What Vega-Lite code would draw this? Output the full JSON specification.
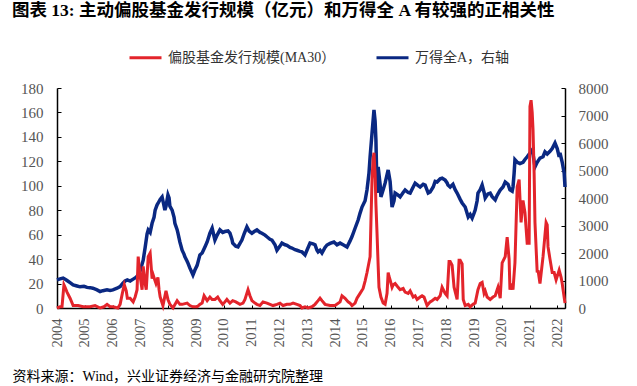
{
"$schema": "https://vega.github.io/schema/vega-lite/v6.json",
"autosize": "none",
"width": 508, "height": 220,
"padding": {"left": 57, "top": 88, "right": 72, "bottom": 78},
"background": "white",
"title": {"text": "图表 13: 主动偏股基金发行规模（亿元）和万得全 A 有较强的正相关性", "anchor": "start", "frame": "group", "orient": "top", "dx": -45, "offset": 3, "baseline": "bottom", "font": "'Liberation Serif', 'Noto Sans CJK SC'", "fontSize": 17.5, "fontWeight": "bold", "color": "#000000"},
"config": {"view": {"stroke": null},
  "axisX": {"values": [2004,2005,2006,2007,2008,2009,2010,2011,2012,2013,2014,2015,2016,2017,2018,2019,2020,2021,2022], "format": "d", "labelAngle": 270, "labelFont": "Liberation Serif", "labelFontSize": 14.5, "labelColor": "#555555", "labelPadding": 13, "tickSize": -3, "tickColor": "#000000", "domainColor": "#000000", "domainWidth": 1.5, "grid": false, "labelFlush": false, "labelOverlap": false,
      "titleX": -45, "titleY": 68, "titleAlign": "left", "titleBaseline": "middle", "titleAngle": 0, "titleFont": "'Liberation Serif', 'Noto Sans CJK SC'", "titleFontSize": 14, "titleFontWeight": "normal", "titleColor": "#000000"}},
"datasets": {
"fund": [
{"t":2004.00,"v":0},{"t":2004.11,"v":1},{"t":2004.18,"v":1},{"t":2004.25,"v":19},{"t":2004.29,"v":17},{"t":2004.36,"v":13},{"t":2004.47,"v":8},{"t":2004.58,"v":2},{"t":2004.76,"v":2},{"t":2004.94,"v":1},
{"t":2005.19,"v":1},{"t":2005.37,"v":2},{"t":2005.55,"v":0},{"t":2005.69,"v":1},{"t":2005.80,"v":3},{"t":2005.91,"v":1},{"t":2006.01,"v":1},{"t":2006.19,"v":0},{"t":2006.27,"v":3},{"t":2006.35,"v":12},
{"t":2006.42,"v":19},{"t":2006.49,"v":14},{"t":2006.53,"v":8},{"t":2006.63,"v":8},{"t":2006.74,"v":5},{"t":2006.81,"v":9},{"t":2006.88,"v":15},{"t":2006.92,"v":42},{"t":2006.95,"v":35},{"t":2006.99,"v":26},
{"t":2007.06,"v":15},{"t":2007.10,"v":34},{"t":2007.17,"v":20},{"t":2007.21,"v":15},{"t":2007.28,"v":42},{"t":2007.35,"v":45},{"t":2007.42,"v":24},{"t":2007.46,"v":27},{"t":2007.53,"v":22},{"t":2007.56,"v":20},
{"t":2007.63,"v":25},{"t":2007.67,"v":15},{"t":2007.71,"v":9},{"t":2007.81,"v":2},{"t":2007.92,"v":14},{"t":2007.99,"v":7},{"t":2008.06,"v":3},{"t":2008.17,"v":0},{"t":2008.32,"v":6},{"t":2008.42,"v":3},
{"t":2008.50,"v":3},{"t":2008.68,"v":4},{"t":2008.78,"v":2},{"t":2008.89,"v":1},{"t":2009.04,"v":1},{"t":2009.14,"v":3},{"t":2009.22,"v":4},{"t":2009.29,"v":10},{"t":2009.40,"v":6},{"t":2009.50,"v":9},
{"t":2009.58,"v":7},{"t":2009.68,"v":7},{"t":2009.78,"v":9},{"t":2009.86,"v":6},{"t":2009.96,"v":3},{"t":2010.04,"v":5},{"t":2010.11,"v":7},{"t":2010.22,"v":4},{"t":2010.32,"v":6},{"t":2010.43,"v":5},
{"t":2010.58,"v":3},{"t":2010.69,"v":4},{"t":2010.76,"v":7},{"t":2010.87,"v":15},{"t":2010.94,"v":10},{"t":2011.01,"v":6},{"t":2011.12,"v":4},{"t":2011.19,"v":3},{"t":2011.30,"v":2},{"t":2011.41,"v":5},
{"t":2011.55,"v":4},{"t":2011.66,"v":3},{"t":2011.77,"v":2},{"t":2011.91,"v":3},{"t":2012.02,"v":4},{"t":2012.13,"v":2},{"t":2012.27,"v":3},{"t":2012.38,"v":3},{"t":2012.49,"v":4},{"t":2012.63,"v":3},
{"t":2012.74,"v":2},{"t":2012.81,"v":0},{"t":2012.92,"v":1},{"t":2013.03,"v":0},{"t":2013.17,"v":1},{"t":2013.28,"v":3},{"t":2013.39,"v":6},{"t":2013.46,"v":8},{"t":2013.53,"v":6},{"t":2013.64,"v":3},
{"t":2013.82,"v":2},{"t":2014.00,"v":2},{"t":2014.18,"v":5},{"t":2014.25,"v":10},{"t":2014.36,"v":8},{"t":2014.47,"v":5},{"t":2014.54,"v":4},{"t":2014.61,"v":2},{"t":2014.72,"v":4},{"t":2014.79,"v":8},
{"t":2014.90,"v":12},{"t":2015.01,"v":16},{"t":2015.08,"v":22},{"t":2015.15,"v":29},{"t":2015.26,"v":42},{"t":2015.29,"v":70},{"t":2015.33,"v":105},{"t":2015.37,"v":122},{"t":2015.40,"v":127},{"t":2015.44,"v":110},
{"t":2015.47,"v":85},{"t":2015.51,"v":61},{"t":2015.55,"v":35},{"t":2015.58,"v":17},{"t":2015.65,"v":9},{"t":2015.73,"v":4},{"t":2015.80,"v":3},{"t":2015.87,"v":12},{"t":2015.91,"v":29},{"t":2015.94,"v":26},
{"t":2015.98,"v":23},{"t":2016.05,"v":17},{"t":2016.09,"v":19},{"t":2016.16,"v":20},{"t":2016.23,"v":18},{"t":2016.34,"v":15},{"t":2016.45,"v":16},{"t":2016.52,"v":13},{"t":2016.63,"v":12},{"t":2016.70,"v":14},
{"t":2016.81,"v":9},{"t":2016.88,"v":10},{"t":2016.95,"v":7},{"t":2017.06,"v":9},{"t":2017.13,"v":10},{"t":2017.20,"v":9},{"t":2017.31,"v":2},{"t":2017.42,"v":5},{"t":2017.49,"v":6},{"t":2017.60,"v":8},
{"t":2017.67,"v":7},{"t":2017.78,"v":10},{"t":2017.85,"v":17},{"t":2017.96,"v":12},{"t":2018.03,"v":10},{"t":2018.10,"v":38},{"t":2018.14,"v":38},{"t":2018.21,"v":35},{"t":2018.28,"v":17},{"t":2018.39,"v":7},
{"t":2018.46,"v":39},{"t":2018.50,"v":39},{"t":2018.57,"v":36},{"t":2018.61,"v":7},{"t":2018.68,"v":2},{"t":2018.79,"v":3},{"t":2018.86,"v":1},{"t":2018.96,"v":3},{"t":2019.04,"v":4},{"t":2019.14,"v":15},
{"t":2019.22,"v":20},{"t":2019.29,"v":21},{"t":2019.36,"v":12},{"t":2019.40,"v":14},{"t":2019.47,"v":9},{"t":2019.58,"v":7},{"t":2019.68,"v":9},{"t":2019.76,"v":10},{"t":2019.83,"v":15},{"t":2019.86,"v":17},
{"t":2019.94,"v":8},{"t":2020.01,"v":37},{"t":2020.12,"v":42},{"t":2020.19,"v":58},{"t":2020.26,"v":40},{"t":2020.29,"v":15},{"t":2020.33,"v":20},{"t":2020.40,"v":15},{"t":2020.47,"v":37},{"t":2020.55,"v":99},
{"t":2020.62,"v":105},{"t":2020.69,"v":70},{"t":2020.76,"v":88},{"t":2020.83,"v":78},{"t":2020.91,"v":53},{"t":2020.98,"v":53},{"t":2021.01,"v":165},{"t":2021.05,"v":170},{"t":2021.09,"v":160},{"t":2021.12,"v":146},
{"t":2021.16,"v":110},{"t":2021.19,"v":70},{"t":2021.27,"v":29},{"t":2021.30,"v":31},{"t":2021.37,"v":20},{"t":2021.48,"v":42},{"t":2021.59,"v":70},{"t":2021.63,"v":68},{"t":2021.66,"v":50},{"t":2021.73,"v":40},
{"t":2021.81,"v":29},{"t":2021.88,"v":29},{"t":2021.95,"v":23},{"t":2022.06,"v":31},{"t":2022.13,"v":25},{"t":2022.17,"v":20},{"t":2022.20,"v":15},{"t":2022.27,"v":4}
],
"wind": [
{"t":2004.00,"v":1020},{"t":2004.11,"v":1060},{"t":2004.22,"v":1090},{"t":2004.29,"v":1050},{"t":2004.36,"v":1000},{"t":2004.47,"v":920},{"t":2004.58,"v":840},{"t":2004.72,"v":800},{"t":2004.83,"v":770},{"t":2004.97,"v":790},
{"t":2005.08,"v":750},{"t":2005.19,"v":740},{"t":2005.29,"v":720},{"t":2005.44,"v":660},{"t":2005.55,"v":600},{"t":2005.65,"v":630},{"t":2005.80,"v":660},{"t":2005.91,"v":640},{"t":2006.01,"v":660},{"t":2006.16,"v":720},
{"t":2006.27,"v":780},{"t":2006.37,"v":900},{"t":2006.45,"v":980},{"t":2006.53,"v":1020},{"t":2006.63,"v":980},{"t":2006.74,"v":1050},{"t":2006.85,"v":1120},{"t":2006.92,"v":1200},{"t":2006.99,"v":1350},{"t":2007.10,"v":1740},
{"t":2007.17,"v":2200},{"t":2007.24,"v":2700},{"t":2007.28,"v":2840},{"t":2007.35,"v":2750},{"t":2007.42,"v":3080},{"t":2007.49,"v":3300},{"t":2007.53,"v":3560},{"t":2007.60,"v":3750},{"t":2007.63,"v":3800},{"t":2007.71,"v":3950},
{"t":2007.78,"v":4040},{"t":2007.81,"v":3900},{"t":2007.88,"v":3560},{"t":2007.92,"v":3700},{"t":2007.99,"v":4110},{"t":2008.03,"v":4000},{"t":2008.06,"v":3700},{"t":2008.14,"v":3560},{"t":2008.21,"v":3300},{"t":2008.24,"v":3080},
{"t":2008.32,"v":2850},{"t":2008.35,"v":2720},{"t":2008.42,"v":2400},{"t":2008.50,"v":2100},{"t":2008.57,"v":1950},{"t":2008.60,"v":1860},{"t":2008.68,"v":1700},{"t":2008.71,"v":1630},{"t":2008.78,"v":1450},{"t":2008.86,"v":1270},
{"t":2008.89,"v":1200},{"t":2008.96,"v":1380},{"t":2009.04,"v":1550},{"t":2009.14,"v":1930},{"t":2009.22,"v":2000},{"t":2009.32,"v":2220},{"t":2009.40,"v":2400},{"t":2009.50,"v":2720},{"t":2009.58,"v":2900},{"t":2009.65,"v":2600},
{"t":2009.68,"v":2470},{"t":2009.76,"v":2650},{"t":2009.86,"v":2840},{"t":2009.96,"v":2750},{"t":2010.04,"v":2780},{"t":2010.15,"v":2800},{"t":2010.22,"v":2720},{"t":2010.29,"v":2500},{"t":2010.32,"v":2360},{"t":2010.43,"v":2250},
{"t":2010.51,"v":2220},{"t":2010.58,"v":2350},{"t":2010.65,"v":2470},{"t":2010.73,"v":2700},{"t":2010.83,"v":2950},{"t":2010.91,"v":2800},{"t":2011.01,"v":2720},{"t":2011.12,"v":2800},{"t":2011.19,"v":2840},{"t":2011.30,"v":2750},
{"t":2011.37,"v":2720},{"t":2011.48,"v":2650},{"t":2011.55,"v":2590},{"t":2011.66,"v":2500},{"t":2011.73,"v":2470},{"t":2011.84,"v":2300},{"t":2011.91,"v":2100},{"t":2012.02,"v":2250},{"t":2012.09,"v":2360},{"t":2012.20,"v":2300},
{"t":2012.27,"v":2280},{"t":2012.38,"v":2200},{"t":2012.45,"v":2180},{"t":2012.56,"v":2120},{"t":2012.63,"v":2100},{"t":2012.74,"v":2060},{"t":2012.81,"v":2040},{"t":2012.92,"v":1930},{"t":2012.99,"v":2100},{"t":2013.10,"v":2360},
{"t":2013.21,"v":2330},{"t":2013.28,"v":2300},{"t":2013.35,"v":2100},{"t":2013.39,"v":2040},{"t":2013.46,"v":2100},{"t":2013.53,"v":2000},{"t":2013.64,"v":2200},{"t":2013.71,"v":2290},{"t":2013.82,"v":2350},{"t":2013.96,"v":2400},
{"t":2014.07,"v":2300},{"t":2014.18,"v":2360},{"t":2014.29,"v":2300},{"t":2014.43,"v":2220},{"t":2014.54,"v":2440},{"t":2014.61,"v":2600},{"t":2014.72,"v":2900},{"t":2014.83,"v":3200},{"t":2014.90,"v":3450},{"t":2014.97,"v":3670},
{"t":2015.08,"v":3900},{"t":2015.15,"v":4300},{"t":2015.22,"v":4900},{"t":2015.26,"v":5490},{"t":2015.33,"v":6360},{"t":2015.40,"v":7200},{"t":2015.44,"v":6800},{"t":2015.47,"v":6110},{"t":2015.51,"v":4180},{"t":2015.55,"v":5130},
{"t":2015.62,"v":4500},{"t":2015.65,"v":4040},{"t":2015.73,"v":4300},{"t":2015.80,"v":4540},{"t":2015.91,"v":5020},{"t":2015.98,"v":4600},{"t":2016.05,"v":3670},{"t":2016.12,"v":3900},{"t":2016.16,"v":4180},{"t":2016.27,"v":4100},
{"t":2016.34,"v":4040},{"t":2016.45,"v":4200},{"t":2016.52,"v":4290},{"t":2016.63,"v":4200},{"t":2016.70,"v":4180},{"t":2016.81,"v":4400},{"t":2016.88,"v":4540},{"t":2016.99,"v":4450},{"t":2017.06,"v":4400},{"t":2017.17,"v":4500},
{"t":2017.24,"v":4470},{"t":2017.35,"v":4180},{"t":2017.42,"v":4220},{"t":2017.53,"v":4400},{"t":2017.60,"v":4600},{"t":2017.67,"v":4580},{"t":2017.78,"v":4700},{"t":2017.85,"v":4720},{"t":2017.96,"v":4650},{"t":2018.03,"v":4550},
{"t":2018.06,"v":4470},{"t":2018.14,"v":4400},{"t":2018.24,"v":4500},{"t":2018.32,"v":4300},{"t":2018.39,"v":4180},{"t":2018.50,"v":3950},{"t":2018.57,"v":3820},{"t":2018.68,"v":3670},{"t":2018.79,"v":3310},{"t":2018.86,"v":3400},
{"t":2018.93,"v":3270},{"t":2019.00,"v":3450},{"t":2019.04,"v":3560},{"t":2019.11,"v":3900},{"t":2019.14,"v":4180},{"t":2019.22,"v":4300},{"t":2019.29,"v":4470},{"t":2019.36,"v":4200},{"t":2019.40,"v":4000},{"t":2019.50,"v":4150},
{"t":2019.58,"v":4180},{"t":2019.65,"v":4050},{"t":2019.76,"v":3930},{"t":2019.83,"v":4100},{"t":2019.94,"v":4290},{"t":2020.04,"v":4400},{"t":2020.12,"v":4580},{"t":2020.22,"v":4500},{"t":2020.29,"v":4300},{"t":2020.37,"v":4250},
{"t":2020.40,"v":4400},{"t":2020.44,"v":4900},{"t":2020.47,"v":5390},{"t":2020.55,"v":5300},{"t":2020.65,"v":5250},{"t":2020.76,"v":5300},{"t":2020.83,"v":5400},{"t":2020.91,"v":5500},{"t":2021.01,"v":5640},{"t":2021.09,"v":5750},
{"t":2021.12,"v":5600},{"t":2021.19,"v":5130},{"t":2021.27,"v":5300},{"t":2021.37,"v":5450},{"t":2021.48,"v":5500},{"t":2021.55,"v":5680},{"t":2021.63,"v":5600},{"t":2021.73,"v":5700},{"t":2021.81,"v":5800},{"t":2021.91,"v":6000},
{"t":2021.99,"v":5800},{"t":2022.06,"v":5500},{"t":2022.09,"v":5640},{"t":2022.17,"v":5300},{"t":2022.24,"v":4900},{"t":2022.27,"v":4400}
]
},
"layer": [
  {"data": {"name": "wind"},
   "mark": {"type": "line", "strokeWidth": 3.5, "color": "#0A2882"},
   "encoding": {
     "x": {"field": "t", "type": "quantitative", "scale": {"domain": [2004, 2022.27], "nice": false, "zero": false}, "title": "资料来源：Wind，兴业证券经济与金融研究院整理"},
     "y": {"field": "v", "type": "quantitative", "scale": {"domain": [0, 8000], "nice": false},
       "axis": {"orient": "right", "values": [0,1000,2000,3000,4000,5000,6000,7000,8000], "format": "d", "title": null, "grid": false, "labelFont": "Liberation Serif", "labelFontSize": 15, "labelColor": "#555555", "tickSize": -4, "labelPadding": 17, "tickColor": "#000000", "domainColor": "#000000", "domainWidth": 1.5, "labelFlush": false, "labelOverlap": false}},
     "color": {"datum": "万得全A，右轴", "type": "nominal", "scale": {"domain": ["偏股基金发行规模(MA30）", "万得全A，右轴"], "range": ["#E3242B", "#0A2882"]}}
   }},
  {"data": {"name": "fund"},
   "mark": {"type": "line", "strokeWidth": 3, "color": "#E3242B"},
   "encoding": {
     "x": {"field": "t", "type": "quantitative", "scale": {"domain": [2004, 2022.27], "nice": false, "zero": false}, "title": "资料来源：Wind，兴业证券经济与金融研究院整理"},
     "y": {"field": "v", "type": "quantitative", "scale": {"domain": [0, 180], "nice": false},
       "axis": {"orient": "left", "values": [0,20,40,60,80,100,120,140,160,180], "format": "d", "title": null, "grid": false, "labelFont": "Liberation Serif", "labelFontSize": 15, "labelColor": "#555555", "tickSize": -4, "labelPadding": 18, "tickColor": "#000000", "domainColor": "#000000", "domainWidth": 1.5, "labelFlush": false, "labelOverlap": false}},
     "color": {"datum": "偏股基金发行规模(MA30）", "type": "nominal", "scale": {"domain": ["偏股基金发行规模(MA30）", "万得全A，右轴"], "range": ["#E3242B", "#0A2882"]},
       "legend": {"orient": "none", "legendX": 71, "legendY": -48, "direction": "horizontal", "title": null, "symbolType": "stroke", "symbolSize": 1024, "symbolStrokeWidth": 3, "labelFont": "'Liberation Serif', 'Noto Sans CJK SC'", "labelFontSize": 14, "labelColor": "#333333", "labelOffset": 5, "labelLimit": 0, "columnPadding": 34}}
   }}
],
"resolve": {"scale": {"y": "independent"}}
}
